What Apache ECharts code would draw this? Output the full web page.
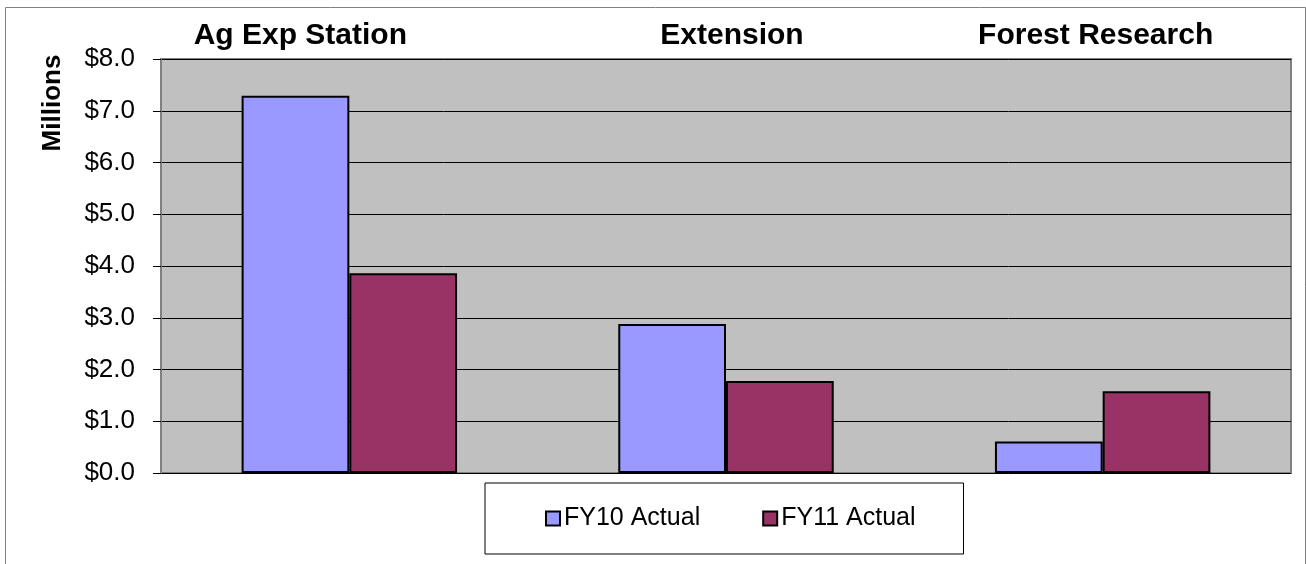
<!DOCTYPE html>
<html>
<head>
<meta charset="utf-8">
<script src="https://cdn.jsdelivr.net/npm/echarts@6/dist/echarts.min.js"></script>
<style>
  html, body { margin: 0; padding: 0; background: #ffffff; }
  #chart { width: 1306px; height: 564px; }
</style>
</head>
<body>
<div id="chart"></div>
<script>
// Budget by unit, in millions of dollars
const categories = ['Ag Exp Station', 'Extension', 'Forest Research'];
const seriesNames = ['FY10 Actual', 'FY11 Actual'];
const fy10Actual = [7.29, 2.88, 0.61];
const fy11Actual = [3.86, 1.78, 1.58];
const axisTitle = 'Millions';

// Horizontal nudges for the unit names printed above the plot
const labelShift = [-49, 6, -7];

const chart = echarts.init(document.getElementById('chart'));

const categoryData = categories.map((name, i) => {
  const s = labelShift[i];
  return {
    value: name,
    textStyle: { padding: s < 0 ? [0, -2 * s, 0, 0] : [0, 0, 0, 2 * s] }
  };
});

const barStyle = (color) => ({ color: color, borderColor: '#000000', borderWidth: 2 });

chart.setOption({
  animation: false,
  backgroundColor: '#ffffff',
  textStyle: { fontFamily: 'Liberation Sans, Arial, sans-serif' },
  grid: {
    left: 161, right: 15, top: 59, bottom: 91,
    show: true,
    backgroundColor: '#c0c0c0',
    borderColor: '#808080',
    borderWidth: 2
  },
  legend: {
    data: seriesNames,
    left: 485, top: 483,
    orient: 'horizontal',
    padding: [23, 48, 23, 60],
    itemGap: 62,
    itemWidth: 14, itemHeight: 14,
    icon: 'rect',
    borderColor: '#000000',
    borderWidth: 1,
    backgroundColor: '#ffffff',
    textStyle: { fontSize: 25, color: '#000000', padding: [0, 0, 0, -1] }
  },
  xAxis: {
    type: 'category',
    position: 'top',
    data: categoryData,
    axisLine: { show: false },
    axisTick: { show: false },
    splitLine: { show: false },
    axisLabel: {
      fontSize: 30, fontWeight: 'bold', color: '#000000', margin: 8
    }
  },
  yAxis: {
    type: 'value',
    min: 0, max: 8, interval: 1,
    axisLine: { show: true, lineStyle: { color: '#808080', width: 2 } },
    axisTick: { show: true, length: 8, lineStyle: { color: '#000000', width: 1 } },
    splitLine: { show: true, lineStyle: { color: '#000000', width: 1 } },
    axisLabel: {
      fontSize: 26, color: '#000000', margin: 26,
      formatter: (v) => '$' + v.toFixed(1)
    }
  },
  graphic: [
    {
      type: 'rect',
      shape: { x: 5.5, y: 7.5, width: 1300, height: 560 },
      style: { fill: 'none', stroke: '#808080', lineWidth: 1 },
      silent: true, z: -1
    },
    {
      type: 'text',
      x: 53, y: 103,
      rotation: Math.PI / 2,
      style: {
        text: axisTitle,
        fontSize: 26, fontWeight: 'bold', fill: '#000000',
        fontFamily: 'Liberation Sans, Arial, sans-serif',
        align: 'center', verticalAlign: 'middle'
      }
    }
  ],
  series: [
    {
      name: seriesNames[0], type: 'bar', data: fy10Actual,
      barGap: '0%', barCategoryGap: '42.8%',
      itemStyle: barStyle('#9999ff')
    },
    {
      name: seriesNames[1], type: 'bar', data: fy11Actual,
      barGap: '0%', barCategoryGap: '42.8%',
      itemStyle: barStyle('#993366')
    }
  ]
});
</script>
</body>
</html>
